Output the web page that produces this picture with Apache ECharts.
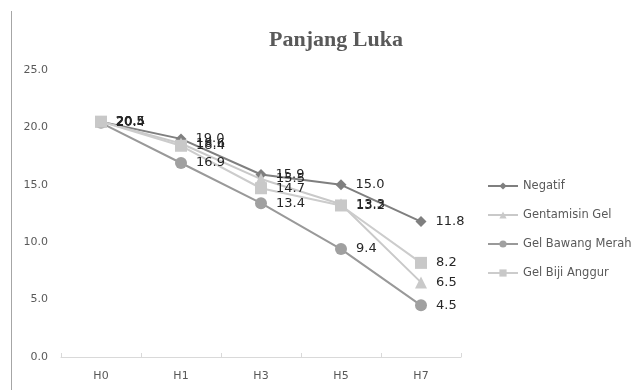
<!DOCTYPE html>
<html>
<head>
<meta charset="utf-8">
<script src="https://cdn.jsdelivr.net/npm/echarts@6/dist/echarts.min.js"></script>
<style>
  html, body { margin: 0; padding: 0; background: #fff; }
  #chart { width: 637px; height: 390px; }
</style>
</head>
<body>
<div id="chart"></div>
<script>
// Wound length per observation day
const days = ['H0', 'H1', 'H3', 'H5', 'H7'];
const negatif = [20.5, 19.0, 15.9, 15.0, 11.8];
const gentamisin = [20.5, 18.6, 15.5, 13.3, 6.5];
const bawangMerah = [20.4, 16.9, 13.4, 9.4, 4.5];
const bijiAnggur = [20.5, 18.4, 14.7, 13.2, 8.2];
const yTicks = [0, 5, 10, 15, 20, 25];

const chart = echarts.init(document.getElementById('chart'));

function lineSeries(name, data, color, lineColor, symbol, size) {
  return {
    name: name,
    type: 'line',
    data: data,
    symbol: symbol,
    symbolSize: size,
    itemStyle: { color: color },
    lineStyle: { color: lineColor, width: 2 },
    label: {
      show: true,
      position: 'right',
      distance: 9,
      color: '#262626',
      fontFamily: 'DejaVu Sans',
      fontSize: 13,
      formatter: p => p.value.toFixed(1)
    },
    emphasis: { disabled: true },
    animation: false
  };
}

chart.setOption({
  animation: false,
  title: {
    text: 'Panjang Luka',
    left: 331,
    top: 24,
    textAlign: 'center',
    textStyle: {
      fontFamily: 'Liberation Serif',
      fontWeight: 'bold',
      fontSize: 22,
      color: '#595959'
    }
  },
  grid: { left: 61, right: 176, top: 70, bottom: 33 },
  legend: {
    orient: 'vertical',
    left: 482,
    top: 175,
    itemGap: 17,
    itemWidth: 30,
    itemHeight: 9,
    textStyle: { fontFamily: 'DejaVu Sans', fontSize: 11.5, color: '#595959' },
    data: ['Negatif', 'Gentamisin Gel', 'Gel Bawang Merah', 'Gel Biji Anggur']
  },
  xAxis: {
    type: 'category',
    data: days,
    boundaryGap: true,
    axisLine: { lineStyle: { color: '#d9d9d9', width: 1 } },
    axisTick: { show: true, inside: true, length: 4, lineStyle: { color: '#d9d9d9' } },
    axisLabel: { color: '#595959', fontFamily: 'DejaVu Sans', fontSize: 11, margin: 14 }
  },
  yAxis: {
    type: 'value',
    min: yTicks[0],
    max: yTicks[yTicks.length - 1],
    interval: 5,
    splitLine: { show: false },
    axisLine: { show: false },
    axisTick: { show: false },
    axisLabel: {
      color: '#595959',
      fontFamily: 'DejaVu Sans',
      fontSize: 11,
      margin: 13,
      formatter: v => v.toFixed(1)
    }
  },
  graphic: [{
    type: 'line',
    shape: { x1: 11.5, y1: 11, x2: 11.5, y2: 390 },
    style: { stroke: '#a6a6a6', lineWidth: 1 }
  }],
  series: [
    lineSeries('Negatif', negatif, '#7f7f7f', '#7f7f7f', 'diamond', 11),
    lineSeries('Gentamisin Gel', gentamisin, '#c9c9c9', '#c9c9c9', 'triangle', 12),
    lineSeries('Gel Bawang Merah', bawangMerah, '#a0a0a0', '#999999', 'circle', 12),
    lineSeries('Gel Biji Anggur', bijiAnggur, '#c8c8c8', '#cccccc', 'rect', 12)
  ]
});
</script>
</body>
</html>
